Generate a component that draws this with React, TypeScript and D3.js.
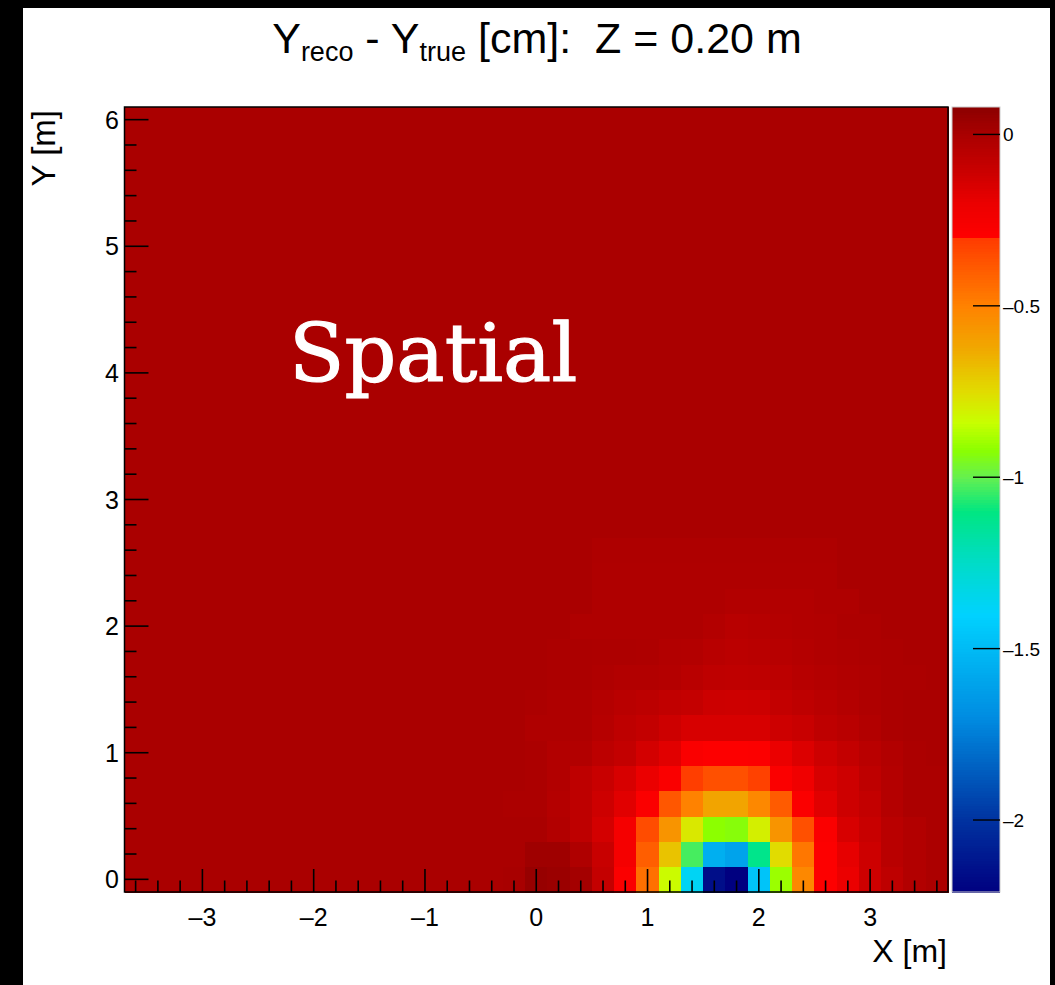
import React from "react";
import * as d3 from "d3";

// ---- Data ----
// Bin grid: 0.2 m bins, X centres -3.6..3.6, Y centres 0..6.0
const X_RANGE = [-3.7, 3.7];
const Y_RANGE = [-0.1, 6.1];
const BIN = 0.2;
const Z_RANGE = [-2.21, 0.08];
const BACKGROUND = 0; // value of the flat region

// Detailed region: columns (x centres) and rows (y centres)
const DETAIL_X = [-0.4, -0.2, 0, 0.2, 0.4, 0.6, 0.8, 1.0, 1.2, 1.4, 1.6, 1.8, 2.0, 2.2, 2.4, 2.6, 2.8, 3.0, 3.2, 3.4, 3.6];
const DETAIL_Y = [0, 0.2, 0.4, 0.6, 0.8, 1.0, 1.2, 1.4, 1.6, 1.8, 2.0, 2.2, 2.4, 2.6];
const ROW_00 = [0, 0.005, 0.05, 0.04, 0.015, -0.085, -0.28, -0.45, -0.83, -1.37, -2.15, -2.21, -1.46, -0.9, -0.52, -0.29, -0.2, -0.115, -0.067, -0.027, -0.007];
const ROW_02 = [0, 0, 0.03, 0.03, -0.017, -0.1, -0.25, -0.4, -0.69, -1.03, -1.55, -1.6, -1.12, -0.75, -0.47, -0.29, -0.186, -0.115, -0.05, -0.027, -0.007];
const ROW_04 = [0, 0, 0, -0.027, -0.067, -0.13, -0.25, -0.35, -0.56, -0.78, -0.92, -0.93, -0.8, -0.56, -0.36, -0.28, -0.143, -0.1, -0.05, -0.027, -0.007];
const ROW_06 = [0, -0.005, -0.007, -0.033, -0.067, -0.115, -0.17, -0.28, -0.38, -0.5, -0.61, -0.61, -0.52, -0.39, -0.28, -0.17, -0.115, -0.083, -0.033, -0.007, -0.005];
const ROW_08 = [0, 0, -0.007, -0.027, -0.067, -0.1, -0.143, -0.2, -0.275, -0.31, -0.36, -0.36, -0.32, -0.28, -0.225, -0.143, -0.115, -0.067, -0.033, -0.007, -0.005];
const ROW_10 = [0, 0, -0.007, -0.027, -0.027, -0.06, -0.083, -0.13, -0.17, -0.275, -0.29, -0.29, -0.285, -0.2, -0.157, -0.115, -0.083, -0.05, -0.027, -0.007, 0];
const ROW_12 = [0, 0, -0.017, -0.017, -0.017, -0.04, -0.067, -0.083, -0.115, -0.143, -0.143, -0.143, -0.143, -0.115, -0.1, -0.067, -0.05, -0.027, -0.007, 0, 0];
const ROW_14 = [0, 0, -0.007, -0.017, -0.017, -0.033, -0.05, -0.06, -0.075, -0.085, -0.11, -0.115, -0.11, -0.083, -0.067, -0.05, -0.033, -0.017, -0.007, 0, 0];
const ROW_16 = [0, 0, 0, -0.005, -0.007, -0.017, -0.027, -0.027, -0.033, -0.05, -0.065, -0.07, -0.065, -0.06, -0.043, -0.033, -0.023, -0.017, -0.007, -0.005, 0];
const ROW_18 = [0, 0, 0, -0.007, -0.007, -0.01, -0.01, -0.012, -0.027, -0.03, -0.045, -0.055, -0.05, -0.043, -0.033, -0.023, -0.017, -0.01, -0.005, 0, 0];
const ROW_20 = [0, 0, 0, 0, -0.015, -0.015, -0.015, -0.015, -0.015, -0.015, -0.03, -0.045, -0.04, -0.033, -0.025, -0.023, -0.01, -0.01, 0, 0, 0];
const ROW_22 = [0, 0, 0, 0, 0, -0.015, -0.015, -0.015, -0.015, -0.015, -0.015, -0.027, -0.027, -0.027, -0.027, -0.017, -0.017, 0, 0, 0, 0];
const ROW_24 = [0, 0, 0, 0, 0, -0.015, -0.015, -0.015, -0.015, -0.015, -0.015, -0.015, -0.015, -0.015, -0.015, -0.015, 0, 0, 0, 0, 0];
const ROW_26 = [0, 0, 0, 0, 0, -0.012, -0.012, -0.012, -0.012, -0.012, -0.012, -0.012, -0.012, -0.012, -0.012, -0.012, 0, 0, 0, 0, 0];
const DETAIL_ROWS = [ROW_00, ROW_02, ROW_04, ROW_06, ROW_08, ROW_10, ROW_12, ROW_14, ROW_16, ROW_18, ROW_20, ROW_22, ROW_24, ROW_26];

// Ticks
const X_MAJOR = [-3, -2, -1, 0, 1, 2, 3];
const Y_MAJOR = [0, 1, 2, 3, 4, 5, 6];
const Z_TICKS = [0, -0.5, -1, -1.5, -2];
const Z_LABELS = ["0", "\u20130.5", "\u20131", "\u20131.5", "\u20132"];

// Palette (value -> colour), jet-like as in the colour bar
const PAL_V = [-2.21, -2.0, -1.7, -1.4, -1.25, -1.1, -1.0, -0.92, -0.84, -0.75, -0.63, -0.5, -0.305, -0.3, -0.2, -0.1, 0.0, 0.08];
const PAL_C = ["#000080", "#0032a0", "#008ce1", "#00d2ff", "#00dcc8", "#00e682", "#64f050", "#8cff00", "#c8ff00", "#e1dc00", "#f0aa00", "#ff8200", "#ff3c00", "#ff0000", "#eb0000", "#c80000", "#aa0000", "#8c0000"];

const SANS = "'Liberation Sans', Arial, Helvetica, sans-serif";

export default function App() {
  const L = 124.5, R = 948, T = 107, B = 892;
  const CB_L = 952, CB_R = 1000;
  const x = d3.scaleLinear().domain(X_RANGE).range([L, R]);
  const y = d3.scaleLinear().domain(Y_RANGE).range([B, T]);
  const z = d3.scaleLinear().domain(Z_RANGE).range([B, T]);
  const color = d3.scaleLinear<string>().domain(PAL_V).range(PAL_C).interpolate(d3.interpolateRgb).clamp(true);

  const nx = Math.round((X_RANGE[1] - X_RANGE[0]) / BIN);
  const ny = Math.round((Y_RANGE[1] - Y_RANGE[0]) / BIN);
  const cells: { xc: number; yc: number; v: number }[] = [];
  for (let j = 0; j < ny; j++) {
    const yc = Y_RANGE[0] + BIN * (j + 0.5);
    for (let i = 0; i < nx; i++) {
      const xc = X_RANGE[0] + BIN * (i + 0.5);
      const di = DETAIL_X.findIndex((d) => Math.abs(d - xc) < 1e-6);
      const dj = DETAIL_Y.findIndex((d) => Math.abs(d - yc) < 1e-6);
      const v = di >= 0 && dj >= 0 ? DETAIL_ROWS[dj][di] : BACKGROUND;
      cells.push({ xc, yc, v });
    }
  }

  const xMinor = d3.range(-18, 19).map((k) => k * 0.2).filter((v) => Math.abs(v - Math.round(v)) > 1e-6);
  const yMinor = d3.range(0, 31).map((k) => k * 0.2).filter((v) => Math.abs(v - Math.round(v)) > 1e-6);

  const cbSteps = d3.range(0, 300);
  const cbH = (B - T) / cbSteps.length;

  return (
    <svg width={1055} height={985} style={{ position: "absolute", left: 0, top: 0 }}>
      <rect x={0} y={0} width={1055} height={985} fill="#000" />
      <rect x={23} y={8} width={1027} height={977} fill="#fff" />

      {/* heat map cells */}
      <g shapeRendering="crispEdges">
        {cells.map((c, k) => (
          <rect
            key={k}
            x={x(c.xc - BIN / 2)}
            y={y(c.yc + BIN / 2)}
            width={x(c.xc + BIN / 2) - x(c.xc - BIN / 2) + 0.6}
            height={y(c.yc - BIN / 2) - y(c.yc + BIN / 2) + 0.6}
            fill={color(c.v)}
          />
        ))}
      </g>

      {/* frame */}
      <rect x={L} y={T} width={R - L} height={B - T} fill="none" stroke="#000" strokeWidth={1.5} />

      {/* ticks */}
      <g stroke="#000" strokeWidth={1.6}>
        {X_MAJOR.map((v) => (
          <line key={"xM" + v} x1={x(v)} x2={x(v)} y1={B} y2={B - 23} />
        ))}
        {xMinor.map((v) => (
          <line key={"xm" + v} x1={x(v)} x2={x(v)} y1={B} y2={B - 11.5} />
        ))}
        {Y_MAJOR.map((v) => (
          <line key={"yM" + v} x1={L} x2={L + 24} y1={y(v)} y2={y(v)} />
        ))}
        {yMinor.map((v) => (
          <line key={"ym" + v} x1={L} x2={L + 12} y1={y(v)} y2={y(v)} />
        ))}
      </g>

      {/* tick labels */}
      <g fontFamily={SANS} fontSize={25} fill="#000">
        {X_MAJOR.map((v) => (
          <text key={"xl" + v} x={x(v)} y={926} textAnchor="middle">
            {v < 0 ? "\u2013" + Math.abs(v) : String(v)}
          </text>
        ))}
        {Y_MAJOR.map((v) => (
          <text key={"yl" + v} x={119} y={y(v) + 9} textAnchor="end">
            {String(v)}
          </text>
        ))}
      </g>

      {/* colour bar */}
      <g shapeRendering="crispEdges">
        {cbSteps.map((k) => {
          const v0 = Z_RANGE[0] + ((Z_RANGE[1] - Z_RANGE[0]) * (k + 0.5)) / cbSteps.length;
          return <rect key={"cb" + k} x={CB_L} y={B - (k + 1) * cbH} width={CB_R - CB_L} height={cbH + 0.6} fill={color(v0)} />;
        })}
      </g>
      <rect x={CB_L} y={T} width={CB_R - CB_L} height={B - T} fill="none" stroke="#ccc" strokeWidth={1} />
      <g stroke="#000" strokeWidth={1.4}>
        {Z_TICKS.map((v) => (
          <line key={"zt" + v} x1={CB_R} x2={CB_R - 27} y1={z(v)} y2={z(v)} />
        ))}
      </g>
      <g fontFamily={SANS} fontSize={19} fill="#000">
        {Z_TICKS.map((v, k) => (
          <text key={"zl" + v} x={1003} y={z(v) + 7}>
            {Z_LABELS[k]}
          </text>
        ))}
      </g>

      {/* title */}
      <text x={537} y={53} textAnchor="middle" fontFamily={SANS} fontSize={43} fill="#000" style={{ whiteSpace: "pre" }}>
        <tspan>Y</tspan>
        <tspan fontSize={27} dy={8}>reco</tspan>
        <tspan dy={-8}>{" - Y"}</tspan>
        <tspan fontSize={27} dy={8}>true</tspan>
        <tspan dy={-8}>{" [cm]:  Z = 0.20 m"}</tspan>
      </text>

      {/* axis titles */}
      <text x={947} y={962} textAnchor="end" fontFamily={SANS} fontSize={32} fill="#000">
        X [m]
      </text>
      <text transform={`translate(55,${T + 3}) rotate(-90)`} textAnchor="end" fontFamily={SANS} fontSize={33} fill="#000">
        Y [m]
      </text>

      {/* annotation */}
      <text x={289} y={381} fontFamily="'DejaVu Serif', serif" fontSize={81} fill="#fff" stroke="#fff" strokeWidth={1.2}>
        Spatial
      </text>
    </svg>
  );
}
